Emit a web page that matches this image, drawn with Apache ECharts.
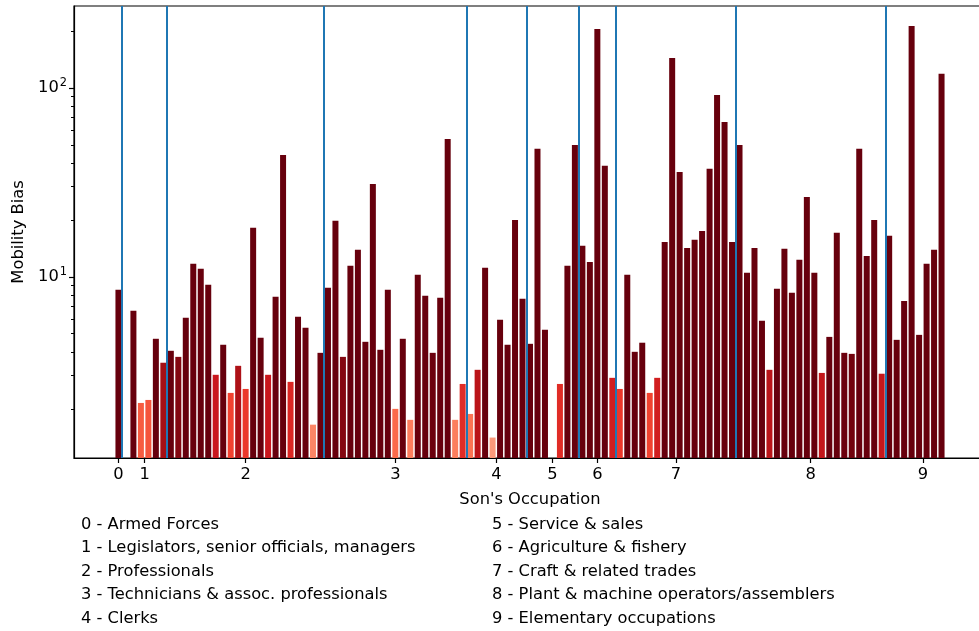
<!DOCTYPE html>
<html>
<head>
<meta charset="utf-8">
<script src="https://cdn.jsdelivr.net/npm/echarts@6/dist/echarts.min.js"></script>
<style>
html, body { margin: 0; padding: 0; background: #fff; overflow: hidden; }
#main { width: 1000px; height: 631px; }
</style>
</head>
<body>
<div id="main"></div>
<script>
// mobility bias per (son's occupation, father's occupation) cell, in plot order
var bias = [
	8.54, null, 6.61, 2.15, 2.23, 4.70, 3.51, 4.06, 3.77, 6.07,
	11.72, 11.02, 9.07, 3.03, 4.37, 2.43, 3.38, 2.55, 18.2, 4.76,
	3.03, 7.84, 44.2, 2.78, 6.14, 5.37, 1.65, 3.96, 8.75, 19.8,
	3.77, 11.44, 13.9, 4.53, 31.0, 4.11, 8.54, 2.00, 4.70, 1.75,
	10.25, 7.93, 3.96, 7.74, 53.7, 1.75, 2.71, 1.88, 3.22, 11.16,
	1.41, 5.92, 4.37, 20.0, 7.65, 4.42, 47.6, 5.24, null, 2.71,
	11.44, 49.9, 14.6, 12.0, 205, 38.7, 2.92, 2.55, 10.25, 4.01,
	4.48, 2.43, 2.92, 15.3, 144, 35.9, 14.2, 15.7, 17.5, 37.3,
	91.8, 66.1, 15.3, 49.9, 10.5, 14.2, 5.85, 3.22, 8.64, 14.1,
	8.23, 12.3, 26.5, 10.5, 3.10, 4.81, 17.1, 3.96, 3.91, 47.6,
	12.9, 20.0, 3.07, 16.5, 4.64, 7.46, 213, 4.93, 11.72, 13.9,
	119
];

// x tick positions (group centres) and labels
var tickPos = [0, 3.5, 17, 37, 50.5, 58, 64, 74.5, 92.5, 107.5];
var tickLabels = ["0", "1", "2", "3", "4", "5", "6", "7", "8", "9"];

// group boundaries (blue lines)
var boundaries = [0.5, 6.5, 27.5, 46.5, 54.5, 61.5, 66.5, 82.5, 102.5];

var yMajor = [10, 100];
var yMinor = [2, 3, 4, 5, 6, 7, 8, 9, 20, 30, 40, 50, 60, 70, 80, 90, 200];

var occupationsLeft = [
	"0 - Armed Forces",
	"1 - Legislators, senior officials, managers",
	"2 - Professionals",
	"3 - Technicians & assoc. professionals",
	"4 - Clerks"
];
var occupationsRight = [
	"5 - Service & sales",
	"6 - Agriculture & fishery",
	"7 - Craft & related trades",
	"8 - Plant & machine operators/assemblers",
	"9 - Elementary occupations"
];

var reds = ["#fff5f0", "#fee0d2", "#fcbba1", "#fc9272", "#fb6a4a",
	"#ef3b2c", "#cb181d", "#a50f15", "#67000d"];

var font = "DejaVu Sans";
var fs = 16.3;

var barData = [];
for (var i = 0; i < bias.length; i++) {
	barData.push([i, bias[i] == null ? "-" : bias[i]]);
}

var myChart = echarts.init(document.getElementById("main"), null, {
	renderer : "canvas"
});

var legendText = {
	fontFamily : font,
	fontSize : fs,
	fontWeight : "normal",
	color : "#000",
	lineHeight : 23.5
};

var option = {
	animation : false,
	backgroundColor : "#fff",
	textStyle : {
		fontFamily : font
	},
	title : [ {
		left : 81,
		top : 513,
		padding : 0,
		text : occupationsLeft.join("\n"),
		textStyle : legendText
	}, {
		left : 492,
		top : 513,
		padding : 0,
		text : occupationsRight.join("\n"),
		textStyle : legendText
	} ],
	grid : {
		left : 74,
		top : 6,
		width : 912,
		height : 452,
		show : true,
		borderColor : "#000",
		borderWidth : 1.2,
		backgroundColor : "transparent"
	},
	xAxis : [ {
		type : "value",
		min : -5.94,
		max : 115.94,
		name : "Son's Occupation",
		nameLocation : "middle",
		nameGap : 34,
		nameTextStyle : {
			fontFamily : font,
			fontSize : fs,
			color : "#000"
		},
		axisLine : {
			show : true,
			onZero : false,
			lineStyle : {
				color : "#000",
				width : 1.2
			}
		},
		axisTick : {
			show : true,
			length : 5,
			customValues : tickPos,
			lineStyle : {
				color : "#000",
				width : 1.2
			}
		},
		axisLabel : {
			customValues : tickPos,
			margin : 9,
			fontFamily : font,
			fontSize : fs,
			color : "#000",
			formatter : function(v) {
				for (var k = 0; k < tickPos.length; k++) {
					if (Math.abs(tickPos[k] - v) < 1e-6) {
						return tickLabels[k];
					}
				}
				return "";
			}
		},
		splitLine : {
			show : false
		}
	} ],
	yAxis : [ {
		type : "log",
		logBase : 10,
		min : 1.099,
		max : 271.5,
		name : "Mobility Bias",
		nameLocation : "middle",
		nameGap : 47,
		nameRotate : 90,
		nameTextStyle : {
			fontFamily : font,
			fontSize : fs,
			color : "#000"
		},
		axisLine : {
			show : true,
			onZero : false,
			lineStyle : {
				color : "#000",
				width : 1.2
			}
		},
		axisTick : {
			show : true,
			length : 5,
			customValues : yMajor,
			lineStyle : {
				color : "#000",
				width : 1.2
			}
		},
		axisLabel : {
			customValues : yMajor,
			margin : 7,
			color : "#000",
			formatter : function(v) {
				var p = Math.round(Math.log(v) / Math.LN10);
				return "{b|10}{s|" + p + "}";
			},
			rich : {
				b : {
					fontFamily : font,
					fontSize : fs,
					color : "#000"
				},
				s : {
					fontFamily : font,
					fontSize : 11.4,
					color : "#000",
					padding : [ 0, 0, 10, 1 ]
				}
			}
		},
		splitLine : {
			show : false
		}
	}, {
		// minor ticks only
		type : "log",
		logBase : 10,
		min : 1.099,
		max : 271.5,
		position : "left",
		axisLine : {
			show : false,
			onZero : false
		},
		axisTick : {
			show : true,
			length : 3,
			customValues : yMinor,
			lineStyle : {
				color : "#000",
				width : 1
			}
		},
		axisLabel : {
			show : false
		},
		splitLine : {
			show : false
		}
	} ],
	series : [ {
		type : "bar",
		name : "Mobility Bias",
		yAxisIndex : 0,
		barWidth : 6,
		data : barData,
		itemStyle : {
			color : function(p) {
				var t = Math.min(Math.max(p.value[1] / 4, 0), 1);
				return echarts.color.lerp(t, reds);
			}
		},
		markLine : {
			silent : true,
			symbol : [ "none", "none" ],
			label : {
				show : false
			},
			lineStyle : {
				color : "#1f77b4",
				width : 2,
				type : "solid"
			},
			data : boundaries.map(function(b) {
				return {
					xAxis : b
				};
			})
		}
	} ]
};
myChart.setOption(option);
</script>
</body>
</html>
